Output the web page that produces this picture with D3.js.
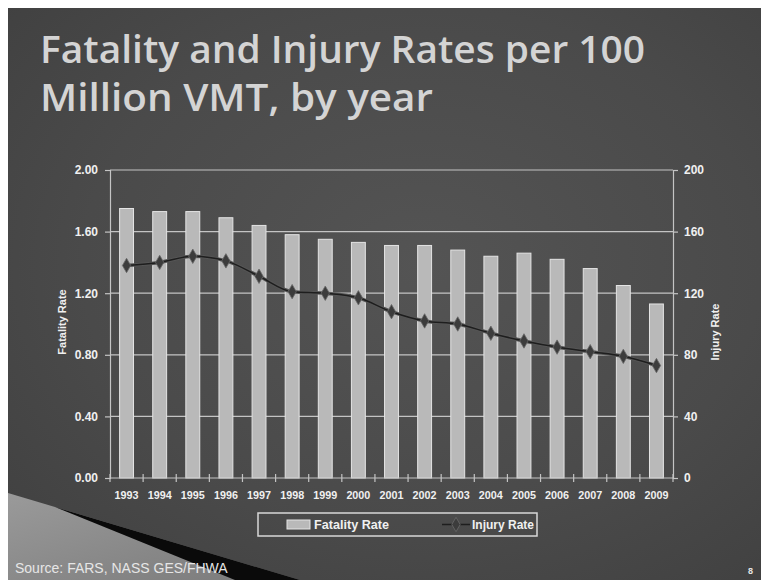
<!DOCTYPE html>
<html>
<head>
<meta charset="utf-8">
<script src="https://cdn.jsdelivr.net/npm/d3@7"></script>
<style>
  body { margin: 0; background: #fff; }
  svg { display: block; }
</style>
</head>
<body>
<div id="chart"></div>
<script>
// chart values
var years = ["1993","1994","1995","1996","1997","1998","1999","2000","2001",
             "2002","2003","2004","2005","2006","2007","2008","2009"];
var fatalityRate = [1.75, 1.73, 1.73, 1.69, 1.64, 1.58, 1.55, 1.53, 1.51,
                    1.51, 1.48, 1.44, 1.46, 1.42, 1.36, 1.25, 1.13];
var injuryRate = [138, 140, 144, 141, 131, 121, 120, 117, 108,
                  102, 100, 94, 89, 85, 82, 79, 73];
var leftTicks = [0, 0.4, 0.8, 1.2, 1.6, 2.0];
var rightTicks = [0, 40, 80, 120, 160, 200];

var W = 761, H = 580;
var plot = {left: 110, right: 673, top: 170, bottom: 478};

var svg = d3.select("#chart").append("svg")
    .attr("width", W)
    .attr("height", H);

var defs = svg.append("defs");
var bg = defs.append("radialGradient").attr("id", "bg")
    .attr("cx", "55%").attr("cy", "45%").attr("r", "75%");
bg.append("stop").attr("offset", "0%").attr("stop-color", "#545454");
bg.append("stop").attr("offset", "60%").attr("stop-color", "#4a4a4a");
bg.append("stop").attr("offset", "100%").attr("stop-color", "#404040");

var light = defs.append("linearGradient").attr("id", "wedge")
    .attr("x1", "0").attr("y1", "0").attr("x2", "1").attr("y2", "1");
light.append("stop").attr("offset", "0%").attr("stop-color", "#9a9a9a");
light.append("stop").attr("offset", "100%").attr("stop-color", "#7a7a7a");

// slide background
svg.append("rect")
    .attr("x", 8).attr("y", 8)
    .attr("width", W - 8).attr("height", H - 8)
    .attr("fill", "url(#bg)");

// title
var title = svg.append("g")
    .attr("font-family", "'Open Sans', 'DejaVu Sans', sans-serif")
    .attr("font-size", 38)
    .attr("font-weight", 600)
    .attr("fill", "#d4d4d4");
title.append("text").attr("x", 40).attr("y", 63)
    .attr("textLength", 605).attr("lengthAdjust", "spacingAndGlyphs")
    .text("Fatality and Injury Rates per 100");
title.append("text").attr("x", 40).attr("y", 111)
    .attr("textLength", 393).attr("lengthAdjust", "spacingAndGlyphs")
    .text("Million VMT, by year");

// scales
var x = d3.scaleBand()
    .domain(years)
    .range([plot.left, plot.right])
    .paddingInner(0.58)
    .paddingOuter(0.29);

var yL = d3.scaleLinear().domain([0, 2]).range([plot.bottom, plot.top]);
var yR = d3.scaleLinear().domain([0, 200]).range([plot.bottom, plot.top]);

var gridColor = "#c4c4c4";
var labelFont = "'Liberation Sans', Arial, sans-serif";

// gridlines
svg.append("g").selectAll("line")
    .data(leftTicks.slice(1))
  .enter().append("line")
    .attr("x1", plot.left).attr("x2", plot.right)
    .attr("y1", function(d) { return yL(d); })
    .attr("y2", function(d) { return yL(d); })
    .attr("stroke", gridColor)
    .attr("stroke-width", 1.2);

// left axis
var leftAxis = svg.append("g")
    .attr("transform", "translate(" + plot.left + ",0)")
    .call(d3.axisLeft(yL).tickValues(leftTicks).tickFormat(d3.format(".2f")).tickSize(5).tickPadding(7));

// right axis
var rightAxis = svg.append("g")
    .attr("transform", "translate(" + plot.right + ",0)")
    .call(d3.axisRight(yR).tickValues(rightTicks).tickSize(5).tickPadding(6));

[leftAxis, rightAxis].forEach(function(a) {
  a.select(".domain").attr("stroke", gridColor).attr("stroke-width", 1.2);
  a.selectAll(".tick line").attr("stroke", gridColor).attr("stroke-width", 1.2);
  a.selectAll(".tick text")
      .attr("fill", "#f0f0f0")
      .attr("font-family", labelFont)
      .attr("font-weight", "bold")
      .attr("font-size", 12);
});

// bars
svg.append("g").selectAll("rect")
    .data(years)
  .enter().append("rect")
    .attr("x", function(d) { return x(d); })
    .attr("width", x.bandwidth())
    .attr("y", function(d, i) { return yL(fatalityRate[i]); })
    .attr("height", function(d, i) { return plot.bottom - yL(fatalityRate[i]); })
    .attr("fill", "#b9b9b9")
    .attr("stroke", "#e4e4e4")
    .attr("stroke-width", 1);

// bottom axis
var step = x.step();
var bottomAxis = svg.append("g")
    .attr("transform", "translate(0," + plot.bottom + ")");
bottomAxis.append("line")
    .attr("x1", plot.left).attr("x2", plot.right)
    .attr("stroke", gridColor).attr("stroke-width", 1.2);
bottomAxis.selectAll(".tk")
    .data(years.concat(["end"]))
  .enter().append("line")
    .attr("class", "tk")
    .attr("x1", function(d, i) { return plot.left + i * step; })
    .attr("x2", function(d, i) { return plot.left + i * step; })
    .attr("y1", -4).attr("y2", 4)
    .attr("stroke", gridColor).attr("stroke-width", 1.2);
bottomAxis.selectAll("text")
    .data(years)
  .enter().append("text")
    .attr("x", function(d) { return x(d) + x.bandwidth() / 2 - 12; })
    .attr("y", 21)
    .attr("textLength", 24)
    .attr("lengthAdjust", "spacingAndGlyphs")
    .attr("fill", "#f0f0f0")
    .attr("font-family", labelFont)
    .attr("font-weight", "bold")
    .attr("font-size", 11)
    .text(function(d) { return d; });

// injury line
var line = d3.line()
    .x(function(d, i) { return x(years[i]) + x.bandwidth() / 2; })
    .y(function(d) { return yR(d); })
    .curve(d3.curveMonotoneX);

svg.append("path")
    .datum(injuryRate)
    .attr("d", line)
    .attr("fill", "none")
    .attr("stroke", "#555")
    .attr("stroke-width", 3.5);
svg.append("path")
    .datum(injuryRate)
    .attr("d", line)
    .attr("fill", "none")
    .attr("stroke", "#1e1e1e")
    .attr("stroke-width", 1.5);

var diamond = d3.symbol().type(d3.symbolDiamond).size(60);
svg.append("g").selectAll("path")
    .data(injuryRate)
  .enter().append("path")
    .attr("d", diamond)
    .attr("transform", function(d, i) {
      return "translate(" + (x(years[i]) + x.bandwidth() / 2) + "," + yR(d) + ")";
    })
    .attr("fill", "#3c3c3c")
    .attr("stroke", "#6a6a6a")
    .attr("stroke-width", 0.8);

// axis titles
svg.append("text")
    .attr("transform", "translate(66," + ((plot.top + plot.bottom) / 2 - 2) + ") rotate(-90)")
    .attr("text-anchor", "middle")
    .attr("fill", "#f0f0f0")
    .attr("font-family", labelFont)
    .attr("font-weight", "bold")
    .attr("font-size", 11)
    .text("Fatality Rate");

svg.append("text")
    .attr("transform", "translate(719," + ((plot.top + plot.bottom) / 2 + 8) + ") rotate(-90)")
    .attr("text-anchor", "middle")
    .attr("fill", "#f0f0f0")
    .attr("font-family", labelFont)
    .attr("font-weight", "bold")
    .attr("font-size", 11)
    .text("Injury Rate");

// bottom-left decoration
svg.append("path")
    .attr("d", "M8,493 L300,580 L8,580 Z")
    .attr("fill", "url(#wedge)");
svg.append("path")
    .attr("d", "M55,507 L300,580 L235,580 Z")
    .attr("fill", "#0a0a0a");

// legend
var legend = svg.append("g").attr("transform", "translate(258,513)");
legend.append("rect")
    .attr("width", 279).attr("height", 23)
    .attr("fill", "none")
    .attr("stroke", "#d8d8d8")
    .attr("stroke-width", 1.5);
legend.append("rect")
    .attr("x", 29).attr("y", 7).attr("width", 23).attr("height", 9)
    .attr("fill", "#b9b9b9").attr("stroke", "#e4e4e4");
legend.append("text")
    .attr("x", 56).attr("y", 16)
    .attr("textLength", 75)
    .attr("lengthAdjust", "spacingAndGlyphs")
    .attr("fill", "#f0f0f0")
    .attr("font-family", labelFont)
    .attr("font-weight", "bold")
    .attr("font-size", 13)
    .text("Fatality Rate");
legend.append("line")
    .attr("x1", 184).attr("x2", 212).attr("y1", 11.5).attr("y2", 11.5)
    .attr("stroke", "#1e1e1e").attr("stroke-width", 1.5);
legend.append("path")
    .attr("d", diamond)
    .attr("transform", "translate(198,11.5)")
    .attr("fill", "#3c3c3c").attr("stroke", "#6a6a6a").attr("stroke-width", 0.8);
legend.append("text")
    .attr("x", 214).attr("y", 16)
    .attr("textLength", 62)
    .attr("lengthAdjust", "spacingAndGlyphs")
    .attr("fill", "#f0f0f0")
    .attr("font-family", labelFont)
    .attr("font-weight", "bold")
    .attr("font-size", 13)
    .text("Injury Rate");

// source + page number
svg.append("text")
    .attr("x", 15).attr("y", 573)
    .attr("fill", "#e6e6e6")
    .attr("font-family", labelFont)
    .attr("font-size", 14)
    .text("Source: FARS, NASS GES/FHWA");

svg.append("text")
    .attr("x", 748).attr("y", 574)
    .attr("fill", "#e6e6e6")
    .attr("font-family", labelFont)
    .attr("font-weight", "bold")
    .attr("font-size", 9)
    .text("8");
</script>
</body>
</html>
